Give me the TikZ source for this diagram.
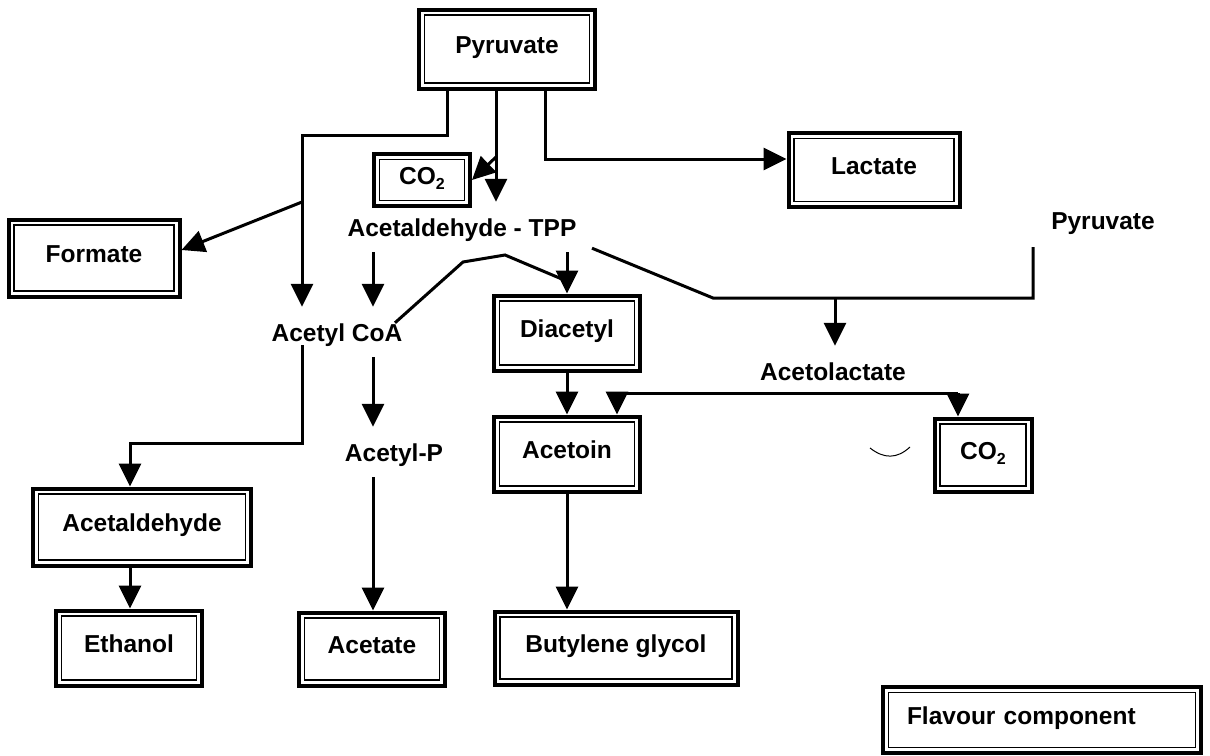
\documentclass[tikz,border=0pt]{standalone}
\usepackage{fontspec}
\setmainfont{Liberation Sans}
\usetikzlibrary{arrows.meta,calc}

\newcommand{\cotwo}{CO\raisebox{-5pt}{\fontsize{16}{16}\selectfont 2}}

\begin{document}
\begin{tikzpicture}[
  x=1pt,y=-1pt,
  font=\fontsize{24.5}{28}\selectfont\bfseries,
  box/.style={draw,line width=4pt,fill=white,align=center,inner sep=0pt,text height=18pt,text depth=10pt,
    path picture={\draw[line width=1.2pt] ([shift={(5.5pt,-5.5pt)}]path picture bounding box.north west) rectangle ([shift={(-5.5pt,5.5pt)}]path picture bounding box.south east);}},
  lbl/.style={inner xsep=0pt,inner ysep=16pt,text height=18pt,text depth=0pt},
  arr/.style={-{Triangle[width=22pt,length=23pt]},line width=3pt},
  ln/.style={line width=3pt}
]
\useasboundingbox (0,0) rectangle (1210,755);

\node[box,minimum width=176pt,minimum height=79pt] (pyr) at (507,49) {Pyruvate};
\node[box,minimum width=171pt,minimum height=74pt] (lac) at (874,170) {Lactate};
\node[box,minimum width=96pt,minimum height=52pt] (cotwoa) at (422,180) {\cotwo};
\node[box,minimum width=171pt,minimum height=77pt] (form) at (94,258) {Formate};
\node[box,minimum width=146pt,minimum height=75pt] (diac) at (567,333) {Diacetyl};
\node[box,minimum width=146pt,minimum height=75pt] (acn) at (567,454) {Acetoin};
\node[box,minimum width=97pt,minimum height=73pt] (cotwob) at (983,455) {\cotwo};
\node[box,minimum width=218pt,minimum height=77pt] (ald) at (142,527) {Acetaldehyde};
\node[box,minimum width=146pt,minimum height=75pt] (eth) at (129,648) {Ethanol};
\node[box,minimum width=146pt,minimum height=73pt] (acet) at (372,649) {Acetate};
\node[box,minimum width=243pt,minimum height=73pt] (bdo) at (616,648) {Butylene glycol};
\node[box,minimum height=66pt,text width=270pt,inner xsep=24pt,align=left] (flav) at (1042,720) {Flavour component};

\node[lbl] (tpp) at (462,227) {Acetaldehyde - TPP};
\node[lbl] (acoa) at (337,332) {Acetyl CoA};
\node[lbl] (acp) at (394,452) {Acetyl-P};
\node[lbl] (alac) at (833,371) {Acetolactate};
\node[lbl] (pyrb) at (1103,220) {Pyruvate};

\coordinate (ca) at (302,135);
\coordinate (cb) at (373,300);
\coordinate (cc) at (496,157);
\coordinate (cd) at (302,202);
\coordinate (ce) at (130,443);
\coordinate (cf) at (713,298);
\coordinate (ch) at (1033,247);
\coordinate (ci) at (835,298);
\coordinate (ck) at (463,262);
\coordinate (cl) at (505,255);
\coordinate (jl) at (617,393);
\coordinate (jr) at (958,393);

\draw[arr] ([xshift=-60pt]pyr.south) |- (ca) -- (ca |- acoa.north);
\draw[arr] (cd) -- ([yshift=8pt]form.east);
\draw[arr] ([xshift=-11pt]pyr.south) -- (tpp.north -| cc);
\draw[arr] (cc) -- (cotwoa.east);
\draw[arr] ([xshift=38pt]pyr.south) |- ([yshift=11pt]lac.west);
\draw[arr] (tpp.south -| cb) -- (acoa.north -| cb);
\draw[arr] (tpp.south -| diac.north) -- (diac.north);
\draw[ln] ([xshift=58pt,yshift=-16pt]acoa.north) -- (ck) -- (cl) -- ([xshift=-4pt,yshift=14pt]diac.north);
\draw[ln] ([xshift=130pt,yshift=4pt]tpp.south) -- (cf) -| (ch);
\draw[arr] (ci) -- (ci |- alac.north);
\draw[ln] (jl) -- (jr);
\draw[arr] (jl) -- (jl |- acn.north);
\draw[arr] (jr) -- (jr |- cotwob.north);
\draw[arr] (diac.south) -- (acn.north);
\draw[arr] (acoa.south -| cb) -- (acp.north -| cb);
\draw[arr] ([yshift=-4pt]acoa.base -| ca) |- (ce) -- (ce |- ald.north);
\draw[arr] (ald.south -| ce) -- (eth.north -| ce);
\draw[arr] (acp.south -| cb) -- (acet.north -| cb);
\draw[arr] (acn.south) -- (bdo.north -| acn.south);
\draw[line width=1pt] (870,448) .. controls (884,459) and (897,459) .. (910,447);
\end{tikzpicture}
\end{document}
